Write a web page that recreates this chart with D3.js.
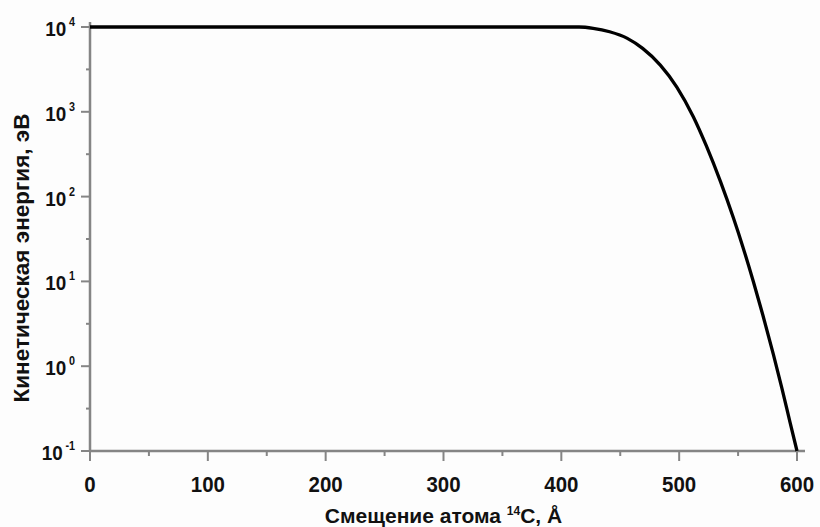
<!DOCTYPE html>
<html>
<head>
<meta charset="utf-8">
<script src="https://cdn.jsdelivr.net/npm/d3@7"></script>
<style>
  body { margin: 0; background: #fdfdfd; }
  text { font-family: "Liberation Sans", Arial, sans-serif; font-weight: bold; fill: #111; }
</style>
</head>
<body>
<script>
// displacement of the 14C atom, Å
let displacement = [0, 100, 200, 300, 400, 415, 427, 441, 456, 469, 484, 498, 512, 523, 535, 546, 554, 563, 571, 580, 587, 594, 600];
// kinetic energy, eV
let energy = [10000, 10000, 10000, 10000, 10000, 10000, 9660, 8790, 7345, 5598, 3556, 1959, 875, 398, 151, 56.2, 25.7, 9.91, 4.02, 1.37, 0.564, 0.221, 0.1];

let xTicks = [0, 100, 200, 300, 400, 500, 600];
let xMinor = [50, 150, 250, 350, 450, 550];
let yPowers = [-1, 0, 1, 2, 3, 4];

let svg = d3.select("body").append("svg")
	.attr("width", 820)
	.attr("height", 527);

let margin = {top: 27, right: 23, bottom: 76, left: 90};
let width = 820 - margin.left - margin.right;
let height = 527 - margin.top - margin.bottom;

let x = d3.scaleLinear().domain([0, 600]).range([margin.left, margin.left + width]);
let y = d3.scaleLog().domain([0.1, 10000]).range([margin.top + height, margin.top]);

let axisColor = "#858585";

// axes lines
let x0 = x(0), yb = y(0.1);
svg.append("line") //left axis
	.attr("x1", x0).attr("x2", x0)
	.attr("y1", yb).attr("y2", y(10000) - 5)
	.attr("stroke", axisColor).attr("stroke-width", 2.5);
svg.append("line") //bottom axis
	.attr("x1", x0 - 1).attr("x2", x(600) + 8)
	.attr("y1", yb).attr("y2", yb)
	.attr("stroke", axisColor).attr("stroke-width", 2.5);

// curve
let data = displacement.map((d, i) => ({x: d, e: energy[i]}));
let line = d3.line()
	.x(d => x(d.x))
	.y(d => y(d.e))
	.curve(d3.curveMonotoneX);

svg.append("path")
	.datum(data)
	.attr("d", line)
	.attr("fill", "none")
	.attr("stroke", "#000")
	.attr("stroke-width", 3.3);

// x ticks
svg.selectAll(".xt").data(xTicks).enter().append("line")
	.attr("x1", d => x(d)).attr("x2", d => x(d))
	.attr("y1", yb).attr("y2", yb + 10)
	.attr("stroke", axisColor).attr("stroke-width", 2);
svg.selectAll(".xm").data(xMinor).enter().append("line")
	.attr("x1", d => x(d)).attr("x2", d => x(d))
	.attr("y1", yb).attr("y2", yb + 5)
	.attr("stroke", axisColor).attr("stroke-width", 2);
svg.selectAll(".xl").data(xTicks).enter().append("text")
	.attr("transform", d => `translate(${x(d)}, ${yb + 41}) scale(0.93, 1)`)
	.attr("text-anchor", "middle")
	.attr("font-size", 22)
	.text(d => d);

// y ticks
svg.selectAll(".yt").data(yPowers).enter().append("line")
	.attr("x1", x0 - 9).attr("x2", x0)
	.attr("y1", d => y(Math.pow(10, d))).attr("y2", d => y(Math.pow(10, d)))
	.attr("stroke", axisColor).attr("stroke-width", 2);
svg.selectAll(".ym").data(yPowers.slice(0, -1)).enter().append("line")
	.attr("x1", x0 - 4).attr("x2", x0)
	.attr("y1", d => y(Math.pow(10, d + 0.5))).attr("y2", d => y(Math.pow(10, d + 0.5)))
	.attr("stroke", axisColor).attr("stroke-width", 2);

let yl = svg.selectAll(".yl").data(yPowers).enter().append("text")
	.attr("transform", d => `translate(${x0 - 15}, ${y(Math.pow(10, d)) + 9}) scale(0.9, 1)`)
	.attr("text-anchor", "end")
	.attr("font-size", 21);
yl.append("tspan").text("10");
yl.append("tspan")
	.attr("dx", 3)
	.attr("dy", -10)
	.attr("font-size", 12)
	.text(d => d);

// axis titles
let xt = svg.append("text")
	.attr("x", (x(0) + x(600)) / 2)
	.attr("y", 523)
	.attr("text-anchor", "middle")
	.attr("font-size", 21);
xt.append("tspan").text("Смещение атома ");
xt.append("tspan").attr("font-size", 12).attr("dy", -8).text("14");
xt.append("tspan").attr("dy", 8).text("C, Å");

svg.append("text")
	.attr("transform", "translate(29, 258) rotate(-90)")
	.attr("text-anchor", "middle")
	.attr("font-size", 22.5)
	.text("Кинетическая энергия, эВ");
</script>
</body>
</html>
